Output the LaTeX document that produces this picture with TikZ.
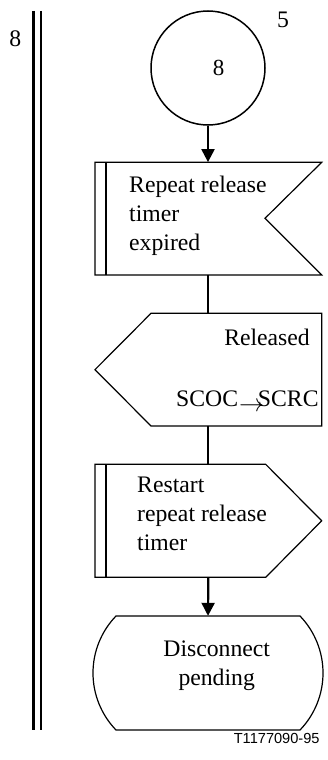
\documentclass[tikz,border=0pt]{standalone}
\usepackage{fontspec}
\setmainfont{Liberation Serif}
\newfontfamily\labelsans{Liberation Sans}
\usetikzlibrary{arrows.meta}
\begin{document}
\begin{tikzpicture}[x=1pt,y=-1pt,
  outline/.style={line width=1.2pt, line join=miter},
  bar/.style={line width=2.2pt},
  conn/.style={line width=2.2pt},
  arr/.style={conn,-{Triangle[width=13pt,length=13pt]}},
  txt/.style={font=\fontsize{23.7}{29}\selectfont, inner sep=0pt},
  anchorbox/.style={rectangle, inner sep=0pt, draw=none}]
\useasboundingbox (0,0) rectangle (328,760);

% page-side double line and labels
\draw[bar] (33.5,11) -- (33.5,729.5);
\draw[bar] (40.7,11) -- (40.7,729.5);
\node[txt] (n8) at (15.3,38.3) {8};
\node[txt] (n5) at (283,19.7) {5};

% connector circle
\node[circle, draw, line width=1.5pt, minimum size=114pt, inner sep=0pt,
      font=\fontsize{23}{28}\selectfont] (c) at (208,68) {\kern21pt 8};

% box 1 : input
\node[anchorbox, minimum width=226.7pt, minimum height=112.7pt] (b1) at (208.35,218.65) {};
\draw[outline] (95,162.3) -- (321.7,162.3) -- (265,218.3) -- (321.7,275) -- (95,275) -- cycle;
\draw[bar] (105.7,162.3) -- (105.7,275);
\node[txt, anchor=west, align=left] (t1) at (129,216) {Repeat release\\timer\\expired};

% box 2 : output
\node[anchorbox, minimum width=226.7pt, minimum height=112.7pt] (b2) at (208.35,369.65) {};
\draw[outline] (151,313.3) -- (321.7,313.3) -- (321.7,426) -- (151,426) -- (95,369.65) -- cycle;
\node[txt, anchor=base east] (t2a) at (310,345) {Released};
\node[txt, anchor=base west] (t2b) at (176,406.7) {SCOC\kern1pt\raisebox{-5pt}{$\rightarrow$}\kern-6pt SCRC};

% box 3 : task
\node[anchorbox, minimum width=226.7pt, minimum height=113pt] (b3) at (208.35,520.8) {};
\draw[outline] (95,464.3) -- (265.7,464.3) -- (321.7,520.8) -- (265.7,577.3) -- (95,577.3) -- cycle;
\draw[bar] (105.7,464.3) -- (105.7,577.3);
\node[txt, anchor=west, align=left] (t3) at (137,514) {Restart\\repeat release\\timer};

% box 4 : state
\node[anchorbox, minimum width=184pt, minimum height=114pt] (b4) at (208,673) {};
\draw[outline] (116,616) -- (300,616)
  .. controls (314.75,631.3) and (323,651.7) .. (323,673)
  .. controls (323,694.3) and (314.75,714.7) .. (300,730)
  -- (116,730)
  .. controls (101.25,714.7) and (93,694.3) .. (93,673)
  .. controls (93,651.7) and (101.25,631.3) .. (116,616) -- cycle;
\node[txt, align=center] (t4) at (216.7,665.5) {Disconnect\\pending};

% connectors
\draw[arr] (c.south) -- (c.south |- b1.north);
\draw[conn] (b1.south) -- (b2.north);
\draw[conn] (b2.south) -- (b3.north);
\draw[arr] (b3.south) -- (b4.north);

\node[font=\labelsans\fontsize{14.6}{17}\selectfont, inner sep=0pt] (tag) at (276.7,738) {T1177090-95};
\end{tikzpicture}
\end{document}
